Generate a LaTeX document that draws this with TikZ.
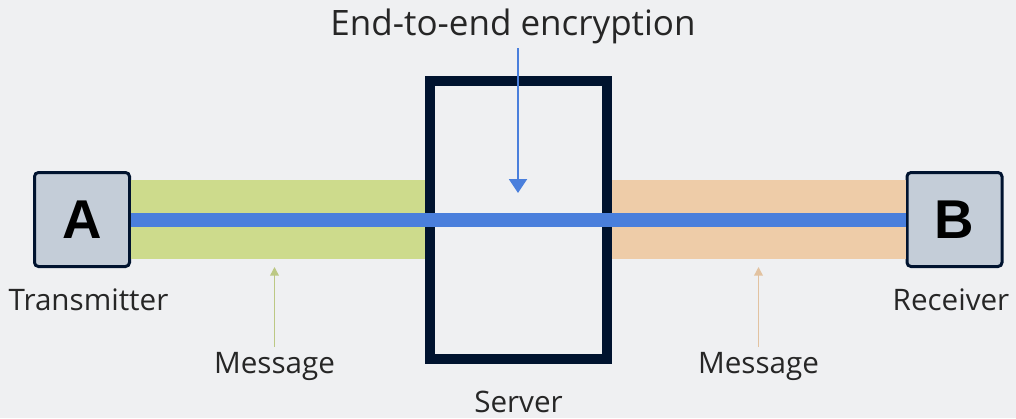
\documentclass[tikz,border=0pt]{standalone}
\usepackage{fontspec}
\setmainfont{Open Sans}
\newfontfamily\letterfont{Liberation Sans}
\usetikzlibrary{arrows.meta}
\definecolor{bgcol}{HTML}{EFF0F2}
\definecolor{navy}{HTML}{00132F}
\definecolor{boxgray}{HTML}{C4CDD8}
\definecolor{msggreen}{HTML}{CDDB8C}
\definecolor{msgorange}{HTML}{EECCA8}
\definecolor{linkblue}{HTML}{4A7FDC}
\definecolor{labelgray}{HTML}{262626}
\tikzset{>=Triangle,every node/.style={font=\fontsize{22.2}{26}\selectfont,text=labelgray},
  endpoint/.style={draw=navy,line width=2.25pt,fill=boxgray,rounded corners=3pt,minimum width=71.25pt,minimum height=70.5pt,
    font=\letterfont\bfseries\fontsize{41}{45}\selectfont,text=black},
  server/.style={draw=navy,line width=7.5pt,minimum width=133.125pt,minimum height=208.5pt},
  band/.style={line width=59.25pt},
  link/.style={linkblue,line width=10.5pt},
  encarrow/.style={linkblue,line width=1.5pt,-{Triangle[width=13.5pt,length=10.5pt]}},
  msgarrow/.style={line width=1.1pt,-{Triangle[width=6.5pt,length=6.5pt]}}}

\begin{document}
\begin{tikzpicture}[x=0.75pt,y=-0.75pt]
\useasboundingbox (0,0) rectangle (1016,418);
\fill[bgcol] (0,0) rectangle (1016,418);
\node[endpoint] (A) at (82,219.5) {A};
\node[endpoint] (B) at (954.5,219.5) {B};
\node[server] (srv) at (518.25,219.5) {};
\draw[band,msggreen] (A.east) -- (srv.west);
\draw[band,msgorange] (srv.east) -- (B.west);
\draw[link] (A) -- (B);
\node[anchor=base,font=\fontsize{26.25}{30}\selectfont] (enc) at (513,35) {End-to-end encryption};
\coordinate (encTip) at (518,193);
\draw[encarrow] (enc.south -| encTip) -- (encTip);
\node[anchor=base] (tx) at (88.5,310) {Transmitter};
\node[anchor=base] (rx) at (951,310) {Receiver};
\node[anchor=base] (msgL) at (274.5,373) {Message};
\node[anchor=base] (msgR) at (758.5,373) {Message};
\node[anchor=base,inner sep=0pt] (srvlabel) at (518.5,412) {Server};
\coordinate (tipL) at (274.5,267);
\coordinate (tipR) at (758.5,267);
\draw[msgarrow,msggreen!90!black!95] (msgL.north) -- (tipL);
\draw[msgarrow,msgorange!95!black] (msgR.north) -- (tipR);
\end{tikzpicture}
\end{document}
